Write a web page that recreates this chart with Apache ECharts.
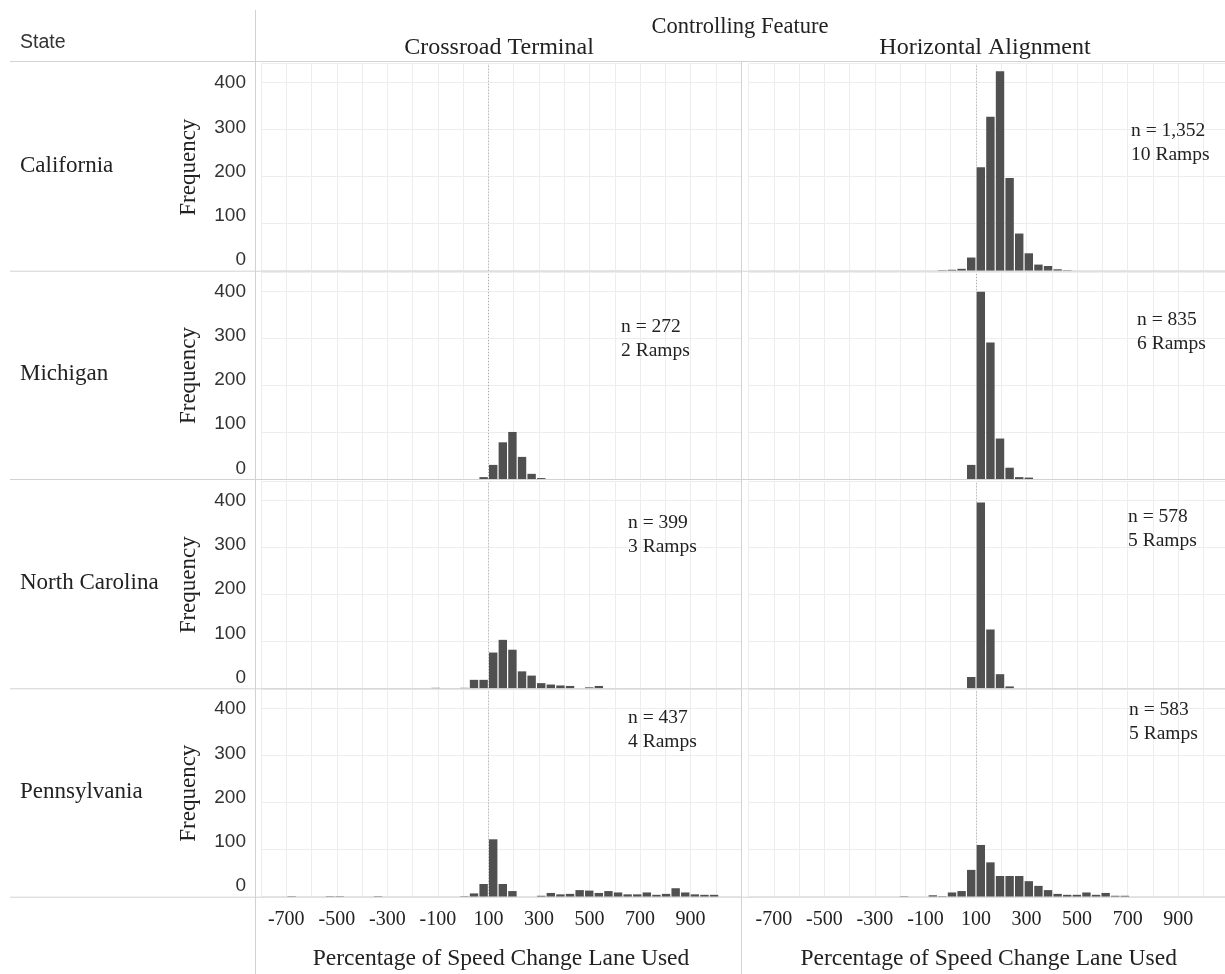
<!DOCTYPE html>
<html>
<head>
<meta charset="utf-8">
<title>Speed change lane histograms</title>
<script src="https://cdn.jsdelivr.net/npm/echarts@6/dist/echarts.min.js"></script>
<style>
  html, body { margin: 0; padding: 0; background: #fff; }
  #main { width: 1225px; height: 974px; }
</style>
</head>
<body>
<div id="main"></div>
<script>
// bin width of the histograms (percent), bins are counted from 100 %
const BIN = 38;

const states = ['California', 'Michigan', 'North Carolina', 'Pennsylvania'];
const features = ['Crossroad Terminal', 'Horizontal Alignment'];
const xTickLabels = [-700, -500, -300, -100, 100, 300, 500, 700, 900];
const yTickLabels = [0, 100, 200, 300, 400];

// [bin start, frequency]
const caCT = [];
const caHA = [[-52, 1], [-14, 2], [24, 4], [62, 28], [100, 220], [138, 327], [176, 424], [214, 197],
  [252, 79], [290, 37], [328, 13], [366, 10], [404, 3], [442, 1]];
const miCT = [[62, 4], [100, 30], [138, 78], [176, 100], [214, 47], [252, 11], [290, 2]];
const miHA = [[62, 30], [100, 398], [138, 290], [176, 86], [214, 24], [252, 4], [290, 3]];
const ncCT = [[-128, 1], [-14, 1], [24, 18], [62, 18], [100, 76], [138, 103], [176, 82], [214, 36],
  [252, 27], [290, 11], [328, 8], [366, 6], [404, 5], [480, 2], [518, 5]];
const ncHA = [[62, 24], [100, 395], [138, 125], [176, 30], [214, 4]];
const paCT = [[-698, 1], [-546, 1], [-508, 1], [-356, 1], [-14, 1], [24, 7], [62, 27], [100, 122],
  [138, 27], [176, 12], [290, 2], [328, 8], [366, 5], [404, 6], [442, 14], [480, 13], [518, 8],
  [556, 12], [594, 9], [632, 5], [670, 5], [708, 9], [746, 4], [784, 6], [822, 18], [860, 9],
  [898, 5], [936, 4], [974, 4]];
const paHA = [[-204, 1], [-90, 3], [-52, 1], [-14, 9], [24, 12], [62, 57], [100, 110], [138, 73],
  [176, 44], [214, 44], [252, 44], [290, 33], [328, 23], [366, 14], [404, 6], [442, 4], [480, 4],
  [518, 9], [556, 4], [594, 8], [632, 2], [670, 2]];

const panels = [[caCT, caHA], [miCT, miHA], [ncCT, ncHA], [paCT, paHA]];

// sample size notes, null where the pane has no note
const nCounts = [[null, '1,352'], ['272', '835'], ['399', '578'], ['437', '583']];
const ramps = [[null, 10], [2, 6], [3, 5], [4, 5]];
const notePos = [[null, [1131, 131]], [[621, 327], [1137, 320]], [[628, 523], [1128, 517]], [[628, 718], [1129, 710]]];

const SERIF = '"Liberation Serif", "Times New Roman", serif';
const SANS = '"Liberation Sans", Arial, sans-serif';
const colLeft = [261, 748.6];
const paneW = 480.1;
const rowBottom = [270.7, 479, 688.3, 896.7];
const paneH = 207;

let grids = [], xAxes = [], yAxes = [], series = [], graphics = [];
let labelAxes = [];

function renderBar (params, api) {
  let x0 = api.value(0);
  let cnt = api.value(1);
  let p0 = api.coord([x0, 0]);
  let p1 = api.coord([x0 + BIN, cnt]);
  return {
    type: 'rect',
    shape: { x: p0[0] + 0.6, y: p1[1], width: p1[0] - p0[0] - 1.2, height: p0[1] - p1[1] },
    style: { fill: '#505050' }
  };
}

for (let r = 0; r < 4; r++) {
  for (let c = 0; c < 2; c++) {
    let i = r * 2 + c;
    grids.push({
      left: colLeft[c], width: paneW, top: rowBottom[r] - paneH, height: paneH,
      containLabel: false, outerBoundsMode: 'none'
    });
    let bottom = r === 3;
    xAxes.push({
      type: 'value', gridIndex: i, min: -800, max: 1100, interval: 100,
      axisLine: { show: false }, axisTick: { show: false },
      splitLine: { show: true, lineStyle: { color: '#ededed', width: 1 } },
      axisLabel: {
        show: bottom, margin: 13, color: '#222', fontFamily: SERIF, fontSize: 20,
        formatter: v => xTickLabels.indexOf(v) >= 0 ? String(v) : ''
      },
      name: bottom ? 'Percentage of Speed Change Lane Used' : '',
      nameLocation: 'middle', nameGap: 50,
      nameTextStyle: { color: '#222', fontFamily: SERIF, fontSize: 23.5 }
    });
    let left = c === 0;
    yAxes.push({
      type: 'value', gridIndex: i, min: 0, max: 440, interval: 100,
      axisLine: { show: false }, axisTick: { show: false },
      splitLine: { show: true, lineStyle: { color: '#ededed', width: 1 } },
      axisLabel: { show: false },
      name: left ? 'Frequency' : '',
      nameLocation: 'middle', nameGap: 61, nameRotate: 90,
      nameTextStyle: { color: '#222', fontFamily: SERIF, fontSize: 23 }
    });
    if (left) {
      // tick labels sit a little above their grid lines, the way the source draws them
      labelAxes.push({
        type: 'value', gridIndex: i, min: -24, max: 444, position: 'left',
        axisLine: { show: false }, axisTick: { show: false }, splitLine: { show: false },
        axisLabel: {
          margin: 15, color: '#333', fontFamily: SANS, fontSize: 19,
          customValues: yTickLabels,
          formatter: v => yTickLabels.indexOf(v) >= 0 ? String(v) : ''
        }
      });
    }
    series.push({
      type: 'custom', xAxisIndex: i, yAxisIndex: i,
      data: panels[r][c], renderItem: renderBar, silent: true,
      markLine: {
        silent: true, symbol: 'none', label: { show: false },
        lineStyle: { color: '#aaaaaa', type: [1, 2], width: 1 },
        data: [{ xAxis: 100 }]
      }
    });
    if (nCounts[r][c]) {
      let p = notePos[r][c];
      graphics.push({
        type: 'text', x: p[0], y: p[1] - 12, z: 100,
        style: {
          text: 'n = ' + nCounts[r][c] + '\n' + ramps[r][c] + ' Ramps',
          font: '19.5px ' + SERIF, fill: '#222', lineHeight: 24, verticalAlign: 'top'
        }
      });
    }
  }
  graphics.push({
    type: 'text', x: 20, y: rowBottom[r] - 105, z: 100,
    style: { text: states[r], font: '23px ' + SERIF, fill: '#222', verticalAlign: 'middle' }
  });
  // row separator
  graphics.push({
    type: 'line', shape: { x1: 10, y1: rowBottom[r] + 0.5, x2: 1225, y2: rowBottom[r] + 0.5 },
    style: { stroke: '#d2d2d2', lineWidth: 1 }, z: 50
  });
}

// header texts and separators
graphics.push(
  { type: 'text', x: 740, y: 27, z: 100, style: { text: 'Controlling Feature', font: '22.5px ' + SERIF, fill: '#222', align: 'center', verticalAlign: 'middle' } },
  { type: 'text', x: 20, y: 43, z: 100, style: { text: 'State', font: '19.5px ' + SANS, fill: '#333', verticalAlign: 'middle' } },
  { type: 'text', x: 499, y: 48, z: 100, style: { text: features[0], font: '24px ' + SERIF, fill: '#222', align: 'center', verticalAlign: 'middle' } },
  { type: 'text', x: 985, y: 48, z: 100, style: { text: features[1], font: '24px ' + SERIF, fill: '#222', align: 'center', verticalAlign: 'middle' } },
  { type: 'line', shape: { x1: 10, y1: 61.5, x2: 1225, y2: 61.5 }, style: { stroke: '#d2d2d2', lineWidth: 1 }, z: 50 },
  { type: 'line', shape: { x1: 255.5, y1: 10, x2: 255.5, y2: 974 }, style: { stroke: '#d2d2d2', lineWidth: 1 }, z: 50 },
  { type: 'line', shape: { x1: 741.5, y1: 62, x2: 741.5, y2: 974 }, style: { stroke: '#d2d2d2', lineWidth: 1 }, z: 50 }
);

let myecharts = echarts.init(document.getElementById('main'));
myecharts.setOption({
  animation: false,
  backgroundColor: '#fff',
  grid: grids,
  xAxis: xAxes,
  yAxis: yAxes.concat(labelAxes),
  series: series,
  graphic: graphics
});
</script>
</body>
</html>
